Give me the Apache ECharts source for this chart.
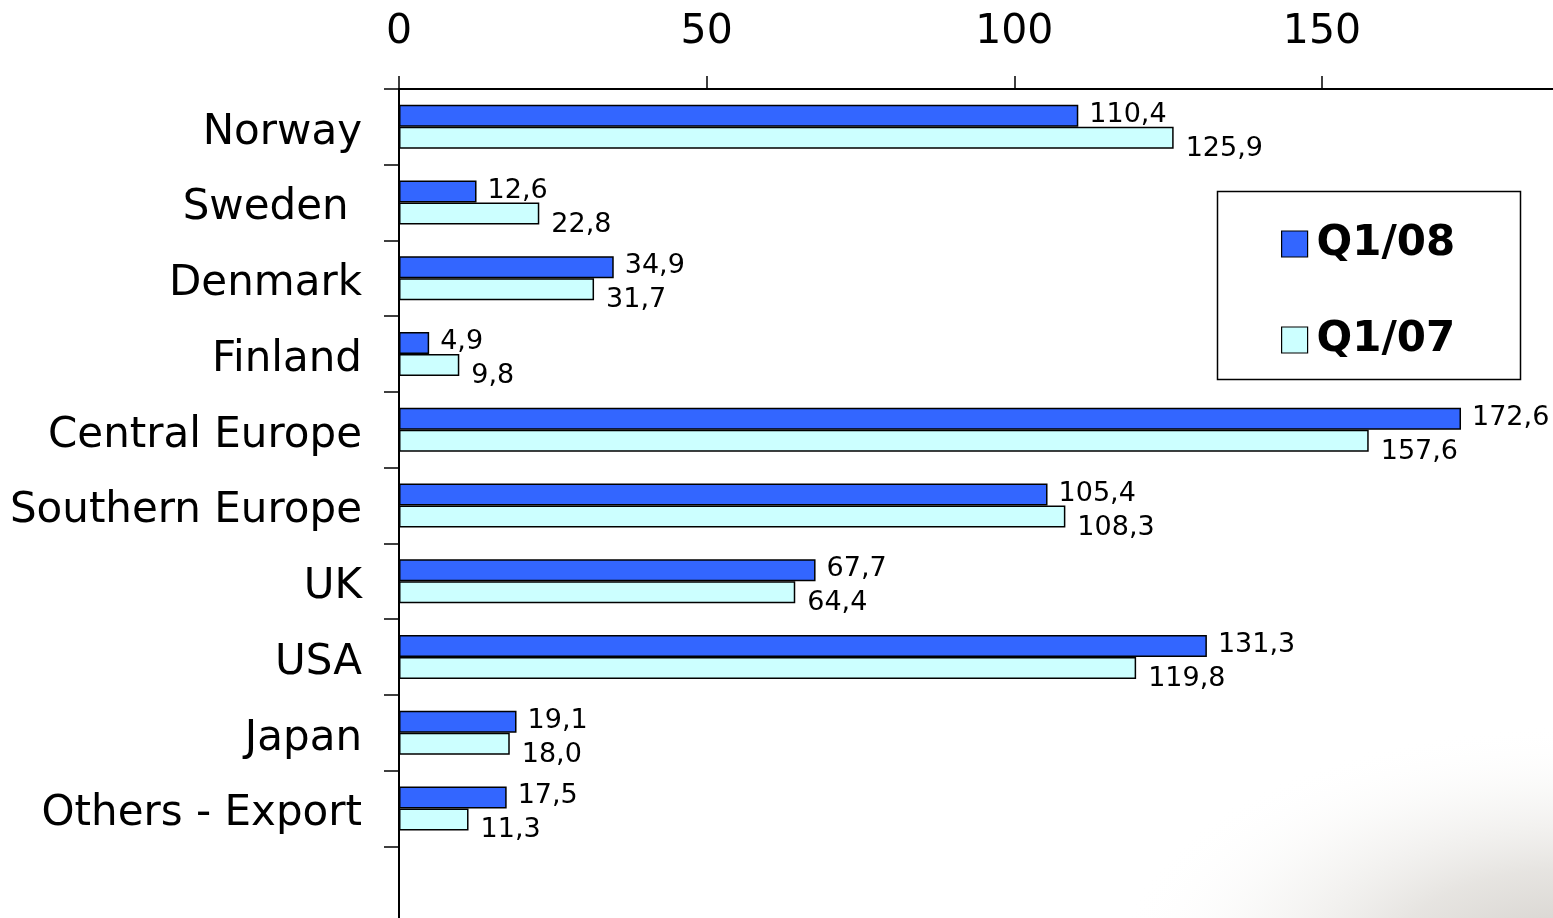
<!DOCTYPE html>
<html>
<head>
<meta charset="utf-8">
<style>
  html, body { margin: 0; padding: 0; background: #ffffff; }
  #chart { width: 1553px; height: 918px; }
</style>
<script src="https://cdn.jsdelivr.net/npm/echarts@6/dist/echarts.min.js"></script>
</head>
<body>
<div id="chart"></div>
<script>
// Market regions (last slot left empty below the final row)
const categories = ['Norway', 'Sweden ', 'Denmark', 'Finland', 'Central Europe',
  'Southern Europe', 'UK', 'USA', 'Japan', 'Others - Export', ''];
const seriesNames = ['Q1/08', 'Q1/07'];
const q108 = [110.4, 12.6, 34.9, 4.9, 172.6, 105.4, 67.7, 131.3, 19.1, 17.5];
const q107 = [125.9, 22.8, 31.7, 9.8, 157.6, 108.3, 64.4, 119.8, 18.0, 11.3];
const valueTicks = [0, 50, 100, 150, 200];

const FONT = 'DejaVu Sans';
const fmt = v => v.toFixed(1).replace('.', ',');

const chart = echarts.init(document.getElementById('chart'), null, { renderer: 'canvas' });

chart.setOption({
  backgroundColor: '#ffffff',
  animation: false,
  textStyle: { fontFamily: FONT },
  graphic: [
    {
      // soft grey shading along the lower right corner (circle stretched sideways)
      type: 'circle',
      z: -10,
      silent: true,
      x: 1570,
      y: 965,
      scaleX: 1.9,
      scaleY: 1,
      shape: { cx: 0, cy: 0, r: 240 },
      style: {
        fill: {
          type: 'radial', x: 0.5, y: 0.5, r: 0.5,
          colorStops: [
            { offset: 0, color: 'rgba(195,191,185,0.8)' },
            { offset: 0.4, color: 'rgba(210,206,200,0.55)' },
            { offset: 0.7, color: 'rgba(230,228,224,0.28)' },
            { offset: 1, color: 'rgba(255,255,255,0)' }
          ]
        }
      }
    },
    {
      // legend frame
      type: 'rect',
      z: 5,
      silent: true,
      shape: { x: 1217.5, y: 191.5, width: 303, height: 188 },
      style: { fill: '#ffffff', stroke: '#000000', lineWidth: 1.5 }
    }
  ],
  legend: {
    orient: 'vertical',
    left: 1276,
    top: 218,
    z: 10,
    itemWidth: 26,
    itemHeight: 26,
    itemGap: 54,
    icon: 'rect',
    data: seriesNames,
    itemStyle: { borderColor: '#000000', borderWidth: 1.2 },
    textStyle: { fontFamily: FONT, fontSize: 42, fontWeight: 'bold', color: '#000000', padding: [0, 0, 0, 4] }
  },
  grid: {
    left: 399,
    top: 89,
    width: 1230.6,
    height: 833,
    outerBoundsMode: 'none',
    containLabel: false
  },
  xAxis: {
    type: 'value',
    position: 'top',
    min: valueTicks[0],
    max: valueTicks[valueTicks.length - 1],
    interval: 50,
    axisLine: { show: true, lineStyle: { color: '#000000', width: 2 } },
    axisTick: { show: true, inside: false, length: 13, lineStyle: { color: '#000000', width: 1.5 } },
    splitLine: { show: false },
    axisLabel: { fontFamily: FONT, fontSize: 41, color: '#000000', margin: 36 }
  },
  yAxis: {
    type: 'category',
    inverse: true,
    data: categories,
    axisLine: { show: true, lineStyle: { color: '#000000', width: 2 } },
    axisTick: { show: true, inside: false, length: 15, alignWithLabel: false, lineStyle: { color: '#000000', width: 1.5 } },
    splitLine: { show: false },
    axisLabel: {
      margin: 37,
      formatter: v => v ? '{c|' + v + '}' : '',
      rich: {
        c: { fontFamily: FONT, fontSize: 42, color: '#000000', padding: [12, 0, 0, 0] }
      }
    }
  },
  series: [
    {
      name: seriesNames[0],
      type: 'bar',
      data: q108,
      barWidth: 22,
      barGap: '0%',
      itemStyle: { color: '#3366FF', borderColor: '#000000', borderWidth: 1.5 },
      label: {
        show: true, position: 'right', distance: 11, offset: [0, -1],
        fontFamily: FONT, fontSize: 27, color: '#000000',
        formatter: p => fmt(p.value)
      }
    },
    {
      name: seriesNames[1],
      type: 'bar',
      data: q107,
      barWidth: 22,
      barGap: '0%',
      itemStyle: { color: '#CCFFFF', borderColor: '#000000', borderWidth: 1.5 },
      label: {
        show: true, position: 'right', distance: 12, offset: [0, 11],
        fontFamily: FONT, fontSize: 27, color: '#000000',
        formatter: p => fmt(p.value)
      }
    }
  ]
});
</script>
</body>
</html>
